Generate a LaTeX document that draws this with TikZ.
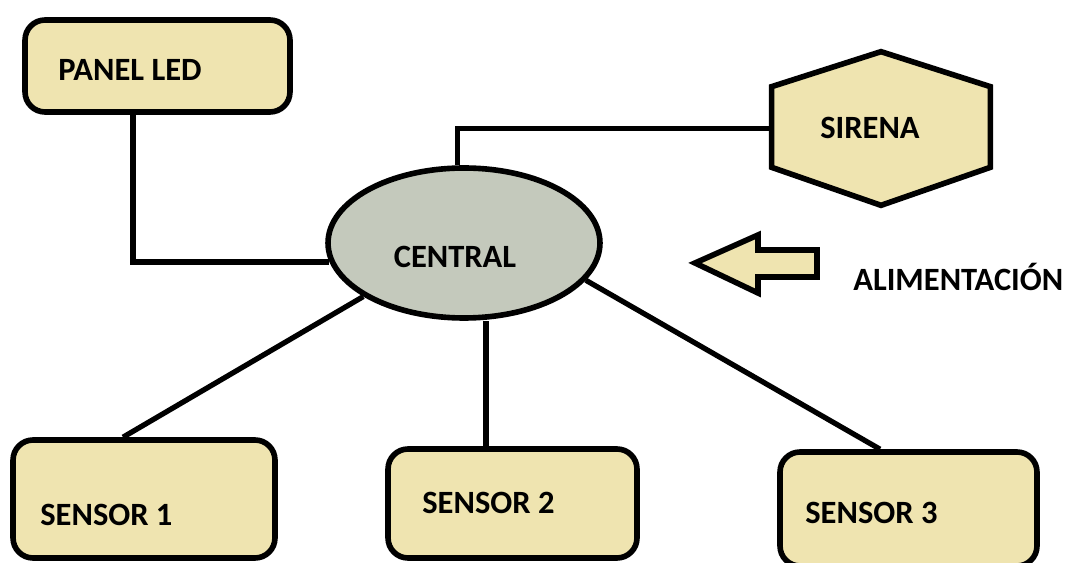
\documentclass[tikz,border=0pt]{standalone}
\usepackage{fontspec}
\setmainfont{Carlito}
\usetikzlibrary{shapes.geometric, positioning}
\definecolor{boxtan}{RGB}{239,228,176}
\definecolor{centralgray}{RGB}{196,201,188}

\begin{document}
\begin{tikzpicture}[x=0.02cm, y=-0.02cm,
  box/.style={draw=black, line width=3.2pt, fill=boxtan, rounded corners=0.4cm, inner sep=0pt},
  wire/.style={draw=black, line width=3pt},
  lbl/.style={inner sep=0pt, font=\fontsize{18.5}{22}\selectfont\bfseries, text=black}]
\useasboundingbox (0,0) rectangle (1065,563);
% boxes
\node [box, minimum width=5.3cm, minimum height=1.84cm] (panel) at (157.5,66) {};
\node [box, minimum width=5.24cm, minimum height=2.36cm] (s1) at (144,499) {};
\node [box, minimum width=4.98cm, minimum height=2.18cm] (s2) at (512.5,503.5) {};
\node [box, minimum width=5.14cm, minimum height=2.28cm] (s3) at (908.5,509) {};
\node [ellipse, draw=black, line width=3.2pt, fill=centralgray, inner sep=0pt,
  minimum width=5.44cm, minimum height=3cm] (central) at (464,243) {};
% hexagon for the siren
\node [inner sep=0pt, minimum width=4.36cm, minimum height=3.06cm] (sirena) at (881,128.5) {};
\draw [line width=3.2pt, fill=boxtan] (sirena.north) -- ([yshift=-0.7cm]sirena.north east)
  -- ([yshift=0.76cm]sirena.south east) -- (sirena.south)
  -- ([yshift=0.76cm]sirena.south west) -- ([yshift=-0.7cm]sirena.north west) -- cycle;
% power arrow
\draw [line width=3.2pt, fill=boxtan] (695,263) -- (758,235) -- (758,250) -- (817,250)
  -- (817,277) -- (758,277) -- (758,293) -- cycle;
% texts
\node [lbl, anchor=west] at (58,70) {PANEL LED};
\node [lbl] at (455,257) {CENTRAL};
\node [lbl] at (870,128) {SIRENA};
\node [lbl, anchor=west] at (40,515) {SENSOR 1};
\node [lbl, anchor=west] at (422,503) {SENSOR 2};
\node [lbl, anchor=west] at (805,513) {SENSOR 3};
\node [lbl, anchor=west] at (853,277) {ALIMENTACIÓN};
% wires
\coordinate (pl) at ([xshift=-0.49cm]panel.south);
\draw [wire] (pl) |- (central.188);
\draw [wire] (sirena.west) -| (central.95);
\draw [wire] ([xshift=-0.42cm]s1.north) -- (central.208);
\coordinate (s2top) at ([xshift=-0.53cm]s2.north);
\draw [wire] (s2top) -- (s2top |- central.south);
\draw [wire] ([xshift=-0.57cm]s3.north) -- (central.343);
\end{tikzpicture}
\end{document}
